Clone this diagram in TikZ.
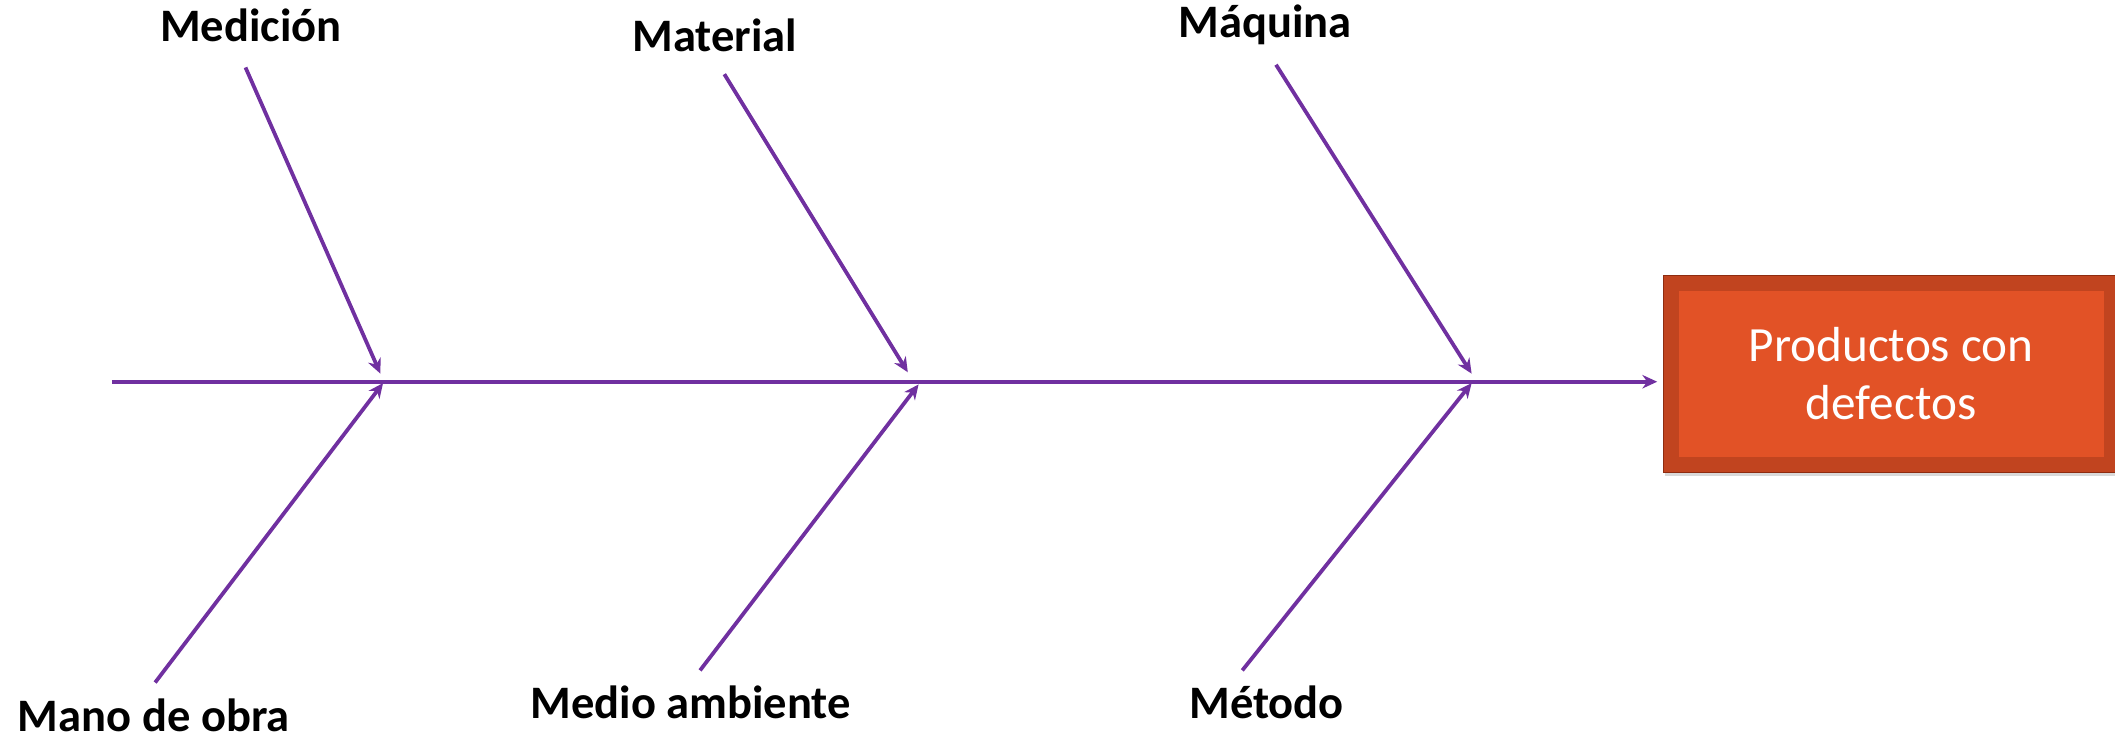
\documentclass[tikz,border=0pt]{standalone}
\usepackage{fontspec}
\setmainfont{Carlito}
\usepackage{xcolor}
\usetikzlibrary{arrows.meta}
\usetikzlibrary{shadows}
\usetikzlibrary{positioning}
\definecolor{espina}{HTML}{7030A0}
\definecolor{efectoborde}{HTML}{8E2C10}
\definecolor{efectofondo}{HTML}{C1441F}
\definecolor{efectocentro}{HTML}{E25226}
\tikzset{
    espinaline/.style={draw=espina, line width=2.8pt, -{Stealth[length=11pt,width=10pt]}},
    causa/.style={font=\fontsize{34.5}{40}\selectfont\bfseries, anchor=base, inner sep=0pt},
}

\begin{document}
\begin{tikzpicture}[x=1pt,y=-1pt]
        \useasboundingbox (0,0) rectangle (1568,548.6);
        % efecto
        \node[draw=efectoborde, line width=0.8pt, fill=efectofondo, minimum width=338pt, minimum height=146pt,
              inner sep=0pt, drop shadow={opacity=0.3, shadow xshift=1pt, shadow yshift=-3pt}] (efecto) at (1402,277) {};
        \node[fill=efectocentro, minimum width=315pt, minimum height=123.5pt, inner sep=0pt,
              text=white, align=center, font=\fontsize{36.5}{43}\selectfont] (efectotxt) at (1402,277.3) {Productos con\\defectos};
        % espina central
        \coordinate (inicio) at (83,283);
        \coordinate (p1) at (282,277);
        \coordinate (p2) at (673,276);
        \coordinate (p3) at (1091,277);
        \coordinate (q1) at (284,284);
        \coordinate (q2) at (681,285);
        \coordinate (q3) at (1091,284);
        \draw[espinaline, shorten >=4pt] (inicio) -- (inicio -| efecto.west);
        % causas de arriba
        \node[causa] (medicion) at (186,31) {Medición};
        \node[causa] (material) at (530,38) {Material};
        \node[causa] (maquina) at (938,28) {Máquina};
        \coordinate (m1) at (182,50);
        \coordinate (m2) at (537,55);
        \coordinate (m3) at (946,48);
        \draw[espinaline] (m1) -- (p1);
        \draw[espinaline] (m2) -- (p2);
        \draw[espinaline] (m3) -- (p3);
        % causas de abajo
        \node[causa] (manoobra) at (114,542) {Mano de obra};
        \node[causa] (medioamb) at (512,533) {Medio ambiente};
        \node[causa] (metodo) at (939,533) {Método};
        \coordinate (n1) at (115,506);
        \coordinate (n2) at (519,497);
        \coordinate (n3) at (921,497);
        \draw[espinaline] (n1) -- (q1);
        \draw[espinaline] (n2) -- (q2);
        \draw[espinaline] (n3) -- (q3);
    \end{tikzpicture}
\end{document}
